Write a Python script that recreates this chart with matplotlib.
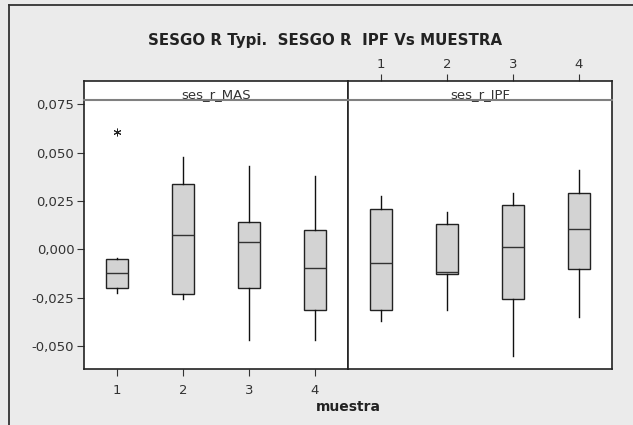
import numpy as np
import matplotlib.pyplot as plt
from matplotlib.lines import Line2D
from matplotlib.ticker import FuncFormatter

# Data (box statistics per muestra)
muestra = [1, 2, 3, 4]
panels = ["ses_r_MAS", "ses_r_IPF"]

mas_whislo = [-0.0227, -0.0255, -0.0468, -0.0468]
mas_q1 = [-0.0198, -0.0232, -0.0198, -0.0312]
mas_med = [-0.0124, 0.0074, 0.0040, -0.0096]
mas_q3 = [-0.0052, 0.0336, 0.0143, 0.0102]
mas_whishi = [-0.0046, 0.0475, 0.0430, 0.0381]
mas_fliers = [[0.0604], [], [], []]

ipf_whislo = [-0.0372, -0.0312, -0.0549, -0.0351]
ipf_q1 = [-0.0312, -0.0129, -0.0255, -0.0102]
ipf_med = [-0.0072, -0.0115, 0.0012, 0.0103]
ipf_q3 = [0.0207, 0.0131, 0.0227, 0.0289]
ipf_whishi = [0.0277, 0.0191, 0.0293, 0.0408]
ipf_fliers = [[], [], [], []]

yticks = [-0.050, -0.025, 0.000, 0.025, 0.050, 0.075]

W, H = 633, 425
BG = "#EBEBEB"
plt.rcParams["font.family"] = ["DejaVu Sans"]


def stats(whislo, q1, med, q3, whishi, fliers):
    out = []
    for i in range(len(med)):
        out.append({"whislo": whislo[i], "q1": q1[i], "med": med[i],
                    "q3": q3[i], "whishi": whishi[i], "fliers": fliers[i]})
    return out


def fx(px):
    return px / W


def fy(py):
    return 1 - py / H


fig = plt.figure(figsize=(W / 100, H / 100), dpi=100, facecolor=BG)

# outer frame (left and top only, image is cropped)
fig.add_artist(Line2D([fx(9), fx(9)], [fy(5), 0], color="#333333", lw=1.3))
fig.add_artist(Line2D([fx(9), 1], [fy(5), fy(5)], color="#333333", lw=1.3))

top_px, bot_px, strip_top = 99.5, 369, 81
lefts = [84, 348]
pw = 264
ylim = (-0.0618, 0.0774)

all_stats = [stats(mas_whislo, mas_q1, mas_med, mas_q3, mas_whishi, mas_fliers),
             stats(ipf_whislo, ipf_q1, ipf_med, ipf_q3, ipf_whishi, ipf_fliers)]

for k, name in enumerate(panels):
    ax = fig.add_axes([fx(lefts[k]), fy(bot_px), pw / W, (bot_px - top_px) / H])
    ax.set_facecolor("white")
    ax.bxp(all_stats[k], positions=muestra, widths=0.34, showcaps=False,
           patch_artist=True,
           boxprops=dict(facecolor="#D3D3D3", edgecolor="#222222", linewidth=1.0),
           medianprops=dict(color="#333333", linewidth=1.0),
           whiskerprops=dict(color="#111111", linewidth=1.0),
           flierprops=dict(marker=(6, 2, 0), markersize=5.5, markeredgecolor="#222222",
                           markeredgewidth=0.7, linestyle="none"))
    ax.set_xlim(0.5, 4.5)
    ax.set_ylim(*ylim)
    for sp in ax.spines.values():
        sp.set_color("#222222")
        sp.set_linewidth(1.2)
    ax.spines["top"].set_visible(False)

    # strip
    sax = fig.add_axes([fx(lefts[k]), fy(top_px), pw / W, (top_px - strip_top) / H])
    sax.set_facecolor("white")
    sax.set_xlim(0.5, 4.5)
    sax.set_yticks([])
    for sp in sax.spines.values():
        sp.set_color("#222222")
        sp.set_linewidth(1.2)
    sax.spines["bottom"].set_color("#808080")
    sax.spines["bottom"].set_linewidth(1.5)
    sax.text(0.5, 0.25, name, transform=sax.transAxes, ha="center", va="center",
             fontsize=9.5, color="#333333")

    if k == 0:
        ax.set_xticks(muestra)
        ax.tick_params(axis="x", direction="out", length=5, colors="#333333",
                       labelsize=9.5, pad=6)
        ax.set_yticks(yticks)
        ax.yaxis.set_major_formatter(FuncFormatter(lambda v, p: f"{v:.3f}".replace(".", ",")))
        ax.tick_params(axis="y", direction="out", length=5, colors="#333333",
                       labelsize=9.5, pad=2)
        sax.set_xticks([])
    else:
        ax.set_xticks([])
        ax.set_yticks([])
        sax.set_xticks(muestra)
        sax.xaxis.tick_top()
        sax.tick_params(axis="x", direction="out", length=5, colors="#333333",
                        labelsize=9.5, pad=2)

fig.text(fx(325), fy(40), "SESGO R Typi.  SESGO R  IPF Vs MUESTRA", ha="center",
         va="center", fontsize=10.8, fontweight="bold", color="#222222")
fig.text(fx(348), fy(407), "muestra", ha="center", va="center", fontsize=10,
         fontweight="bold", color="#222222")

fig.savefig("out.png", dpi=100, facecolor=BG)
